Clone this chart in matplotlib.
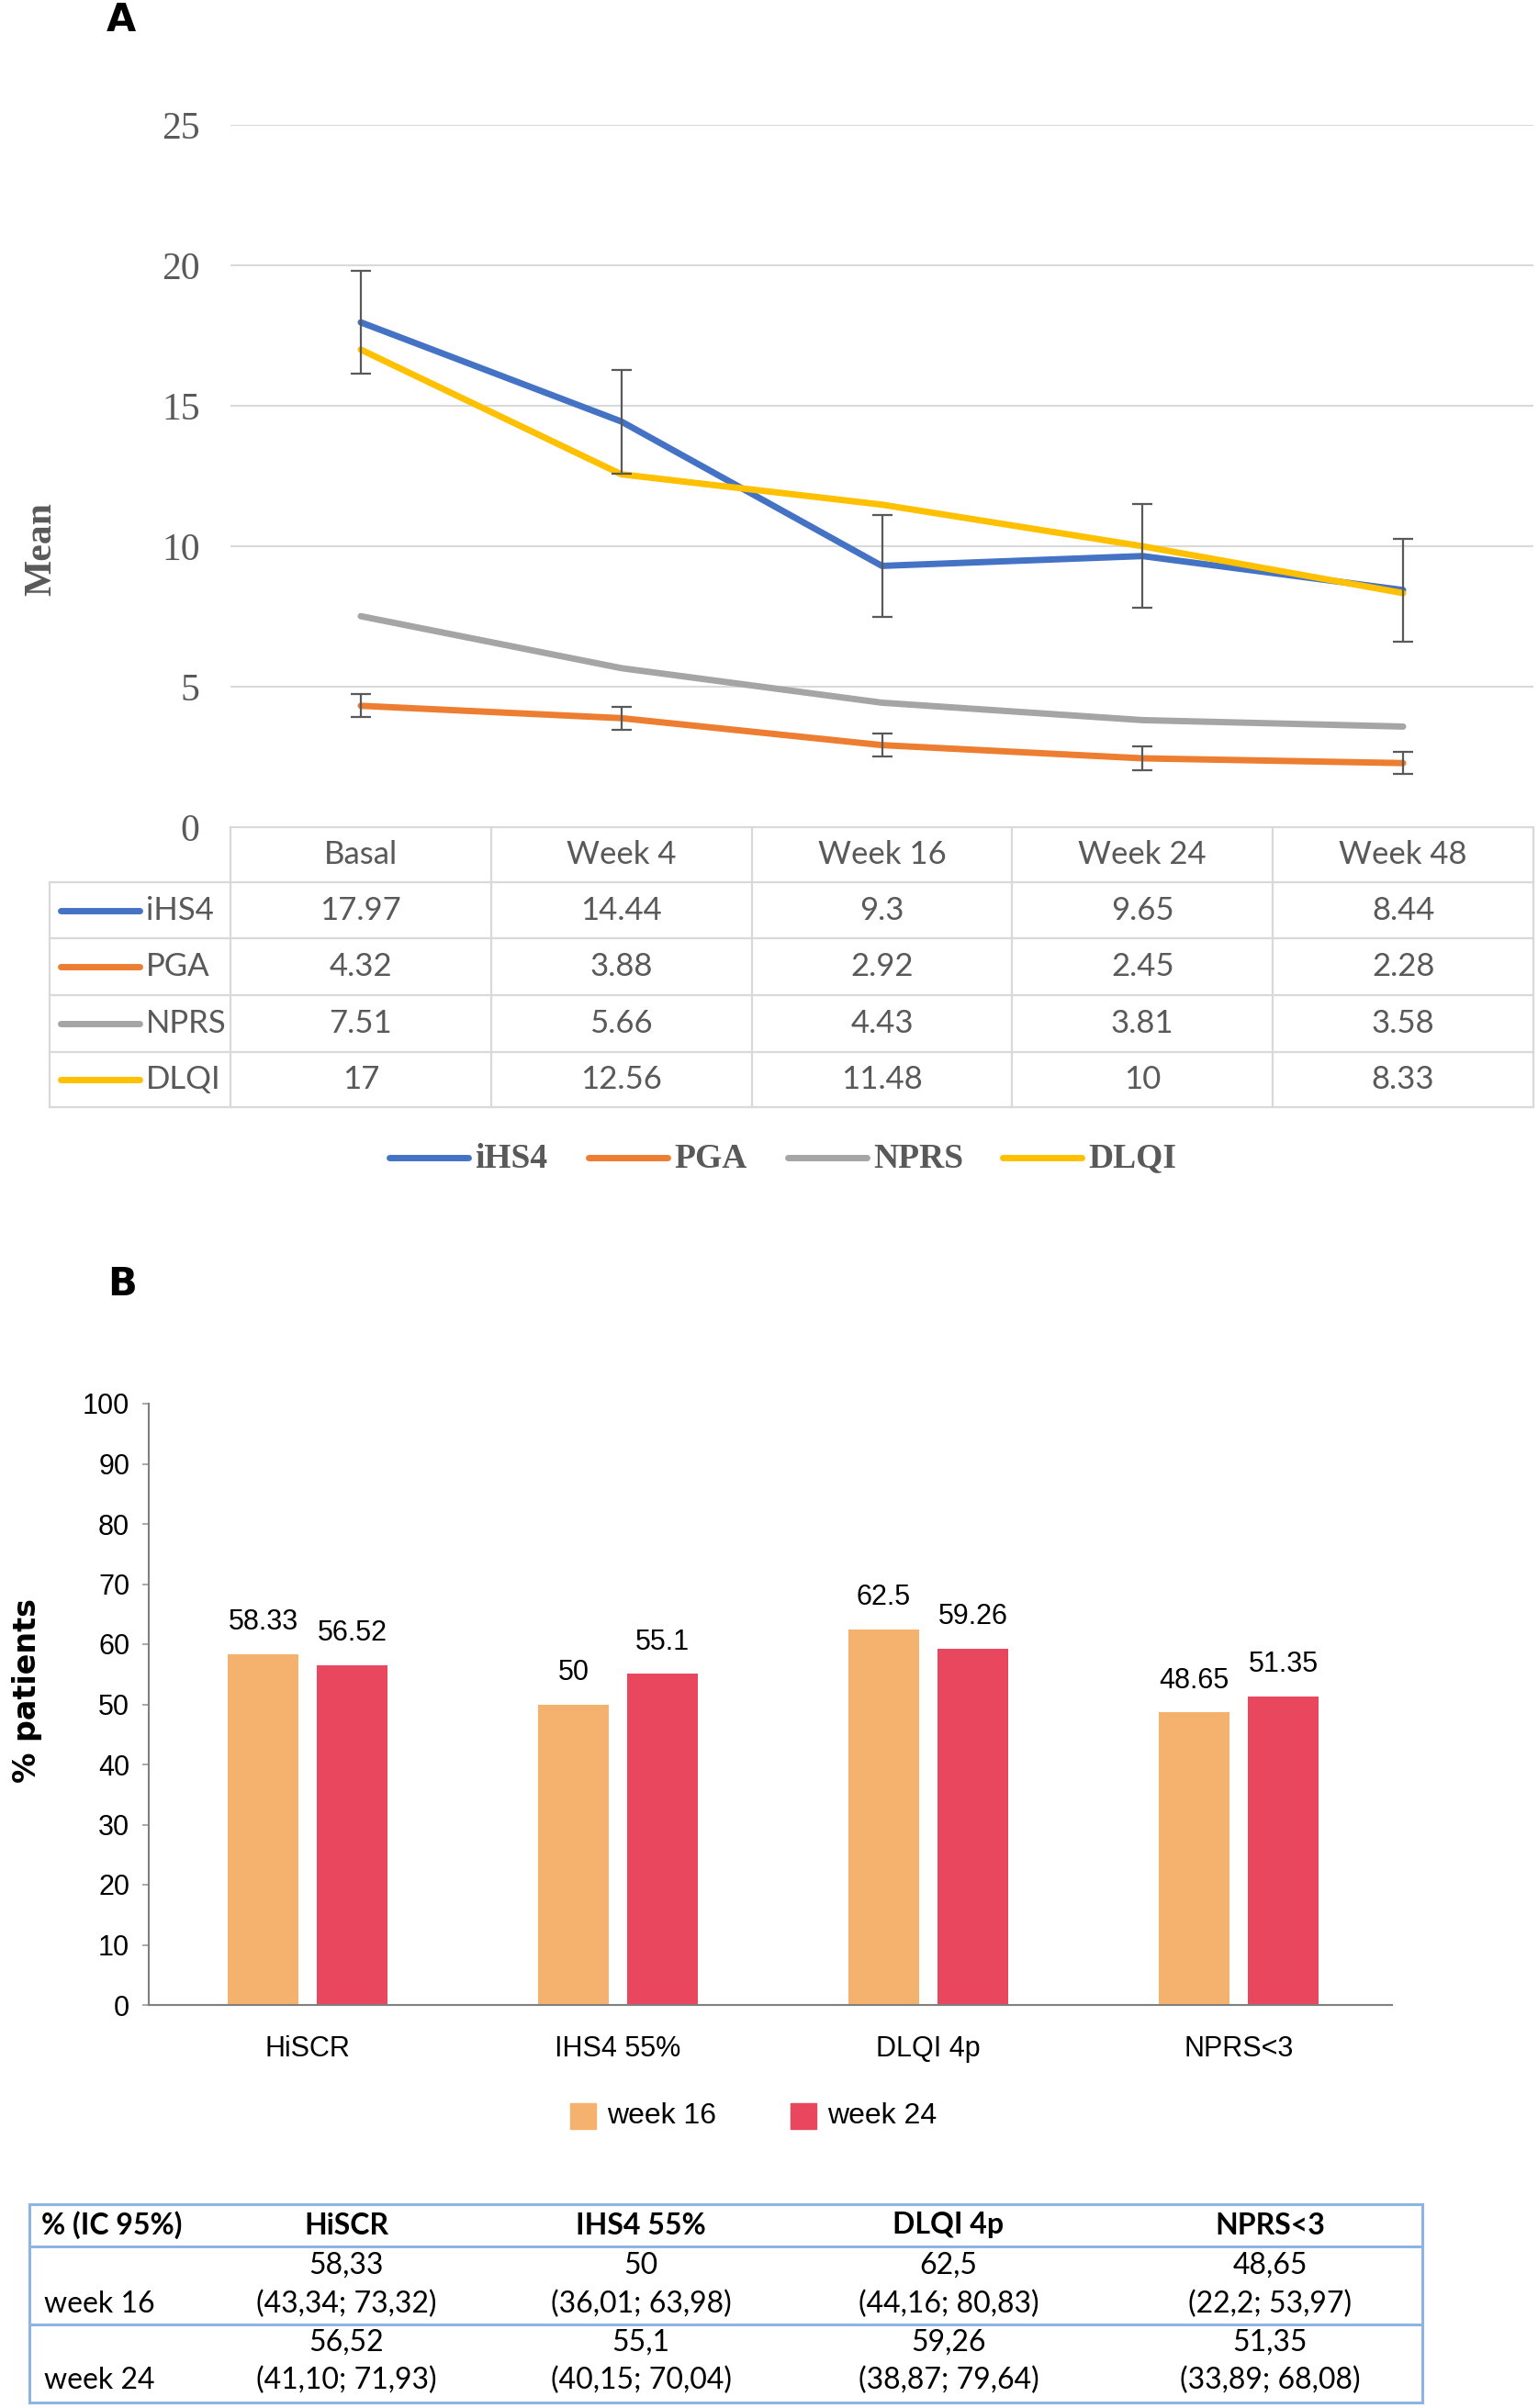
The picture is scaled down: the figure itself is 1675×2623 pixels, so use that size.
import matplotlib
matplotlib.use("Agg")
import matplotlib.pyplot as plt
import numpy as np

W, H = 1675, 2623

# ---- panel A data
timepoints = ['Basal', 'Week 4', 'Week 16', 'Week 24', 'Week 48']
series_names = ['iHS4', 'PGA', 'NPRS', 'DLQI']
ihs4 = [17.97, 14.44, 9.3, 9.65, 8.44]
pga = [4.32, 3.88, 2.92, 2.45, 2.28]
nprs = [7.51, 5.66, 4.43, 3.81, 3.58]
dlqi = [17, 12.56, 11.48, 10, 8.33]
ihs4_err = [1.83, 1.85, 1.81, 1.84, 1.83]
pga_err = [0.41, 0.41, 0.40, 0.41, 0.40]
colors_a = ['#4472C4', '#ED7D31', '#A5A5A5', '#FFC000']

# ---- panel B data
outcomes = ['HiSCR', 'IHS4 55%', 'DLQI 4p', 'NPRS<3']
week16 = [58.33, 50, 62.5, 48.65]
week24 = [56.52, 55.1, 59.26, 51.35]
ci_week16 = ['(43,34; 73,32)', '(36,01; 63,98)', '(44,16; 80,83)', '(22,2; 53,97)']
ci_week24 = ['(41,10; 71,93)', '(40,15; 70,04)', '(38,87; 79,64)', '(33,89; 68,08)']
colors_b = ['#F5B26E', '#E8475E']

GRAY_TXT = '#595959'
GRID = '#D9D9D9'
SERIF = 'Liberation Serif'
CAL = 'Lato'
ARIAL = 'Liberation Sans'


def rect(x0, y0, x1, y1):
    return [x0 / W, 1 - y1 / H, (x1 - x0) / W, (y1 - y0) / H]


fig = plt.figure(figsize=(W / 100, H / 100), dpi=100)

# overlay in pixel coords for tables, legends and labels
ov = fig.add_axes([0, 0, 1, 1])
ov.set_xlim(0, W)
ov.set_ylim(H, 0)
ov.axis('off')

# ================= Panel A =================
ax = fig.add_axes(rect(251, 136, 1670, 901))
x = np.arange(len(timepoints))
all_series = [ihs4, pga, nprs, dlqi]
for vals, c in zip(all_series, colors_a):
    ax.plot(x, vals, color=c, lw=5, solid_capstyle='round', solid_joinstyle='round', zorder=3)
ax.errorbar(x, ihs4, yerr=ihs4_err, fmt='none', ecolor=GRAY_TXT, elinewidth=1.6,
            capsize=8, capthick=1.6, zorder=4)
ax.errorbar(x, pga, yerr=pga_err, fmt='none', ecolor=GRAY_TXT, elinewidth=1.6,
            capsize=8, capthick=1.6, zorder=4)
ax.set_xlim(-0.5, len(timepoints) - 0.5)
ax.set_ylim(0, 25)
ax.set_yticks(np.arange(0, 26, 5))
ax.set_xticks([])
ax.grid(axis='y', color=GRID, lw=1.5, zorder=0)
for s in ax.spines.values():
    s.set_visible(False)
ax.tick_params(axis='y', length=0, pad=24, labelsize=30, labelcolor=GRAY_TXT)
for lab in ax.get_yticklabels():
    lab.set_fontfamily(SERIF)

ov.text(45, 598, 'Mean', rotation=90, ha='center', va='center', fontsize=30,
        fontweight='bold', color=GRAY_TXT, family=SERIF)
ov.text(116, 22, 'A', ha='left', va='center', fontsize=30, fontweight='bold', family='DejaVu Sans')

# data table under panel A
col_w = (1670 - 251) / len(timepoints)
row_edges = [901, 961, 1022, 1084, 1146, 1206]
tl = dict(color=GRID, lw=1.6)
ov.plot([251, 1670], [901, 901], **tl)
for y in row_edges[1:]:
    ov.plot([54, 1670], [y, y], **tl)
ov.plot([54, 54], [961, 1206], **tl)
for i in range(len(timepoints) + 1):
    xx = 251 + i * col_w
    ov.plot([xx, xx], [901, 1206], **tl)
for i, tp in enumerate(timepoints):
    ov.text(251 + (i + 0.5) * col_w, 931, tp, ha='center', va='center', fontsize=25,
            color=GRAY_TXT, family=CAL)
for r, (name, vals, c) in enumerate(zip(series_names, all_series, colors_a)):
    yc = (row_edges[r + 1] + row_edges[r + 2]) / 2
    ov.plot([66, 152], [yc, yc], color=c, lw=5, solid_capstyle='round')
    ov.text(159, yc, name, ha='left', va='center', fontsize=25, color=GRAY_TXT, family=CAL)
    for i, v in enumerate(vals):
        ov.text(251 + (i + 0.5) * col_w, yc, f"{v:g}", ha='center', va='center',
                fontsize=25, color=GRAY_TXT, family=CAL)

# legend A
leg_x = [424, 641, 858, 1092]
for lx, name, c in zip(leg_x, series_names, colors_a):
    ov.plot([lx, lx + 86], [1261, 1261], color=c, lw=5, solid_capstyle='round')
    ov.text(lx + 93, 1262, name, ha='left', va='center', fontsize=27, fontweight='bold',
            color=GRAY_TXT, family=SERIF)

# ================= Panel B =================
bx = fig.add_axes(rect(162, 1529, 1516, 2184))
xb = np.arange(len(outcomes))
bw = 0.228
off = 0.1436
r1 = bx.bar(xb - off, week16, bw, color=colors_b[0], zorder=2)
r2 = bx.bar(xb + off, week24, bw, color=colors_b[1], zorder=2)
for rr, vals in ((r1, week16), (r2, week24)):
    bx.bar_label(rr, labels=[f"{v:g}" for v in vals], padding=14, fontsize=22,
                 family=ARIAL)
bx.set_xlim(-0.512, 3.494)
bx.set_ylim(0, 100)
bx.set_yticks(np.arange(0, 101, 10))
bx.set_xticks(xb)
bx.set_xticklabels(outcomes, fontsize=22, family=ARIAL)
for sp in ('top', 'right'):
    bx.spines[sp].set_visible(False)
for sp in ('left', 'bottom'):
    bx.spines[sp].set_color('#7F7F7F')
    bx.spines[sp].set_linewidth(1.5)
bx.tick_params(axis='y', length=5, width=1.2, color='#9A9A9A', pad=10, labelsize=22)
bx.tick_params(axis='x', length=0, pad=24)
for lab in bx.get_yticklabels():
    lab.set_fontfamily(ARIAL)

ov.text(30, 1842, '% patients', rotation=90, ha='center', va='center', fontsize=24,
        fontweight='bold', family='DejaVu Sans')
ov.text(117, 1399, 'B', ha='left', va='center', fontsize=30, fontweight='bold', family='DejaVu Sans')

# legend B
for sx, name, c in zip([621, 861], ['week 16', 'week 24'], colors_b):
    ov.add_patch(plt.Rectangle((sx, 2291), 28, 28, color=c))
    ov.text(sx + 40, 2305, name, ha='left', va='center', fontsize=23, family=ARIAL)

# table B
blue = '#8DB4E2'
for y in [2401, 2447, 2532, 2617]:
    ov.plot([32, 1549], [y, y], color=blue, lw=2.2)
ov.plot([32, 32], [2401, 2617], color=blue, lw=2.2)
ov.plot([1549, 1549], [2401, 2617], color=blue, lw=2.2)
col_c = [377, 698, 1033, 1383]
ov.text(45, 2424, '% (IC 95%)', ha='left', va='center', fontsize=23, fontweight='bold', family=CAL)
for cx, name in zip(col_c, outcomes):
    ov.text(cx, 2424, name, ha='center', va='center', fontsize=23, fontweight='bold', family=CAL)
for (yv, yci, wk, vals, cis) in ((2468, 2510, 'week 16', week16, ci_week16),
                                 (2552, 2593, 'week 24', week24, ci_week24)):
    ov.text(48, yci, wk, ha='left', va='center', fontsize=23, family=CAL)
    for cx, v, ci in zip(col_c, vals, cis):
        ov.text(cx, yv, f"{v:g}".replace('.', ','), ha='center', va='center', fontsize=23, family=CAL)
        ov.text(cx, yci, ci, ha='center', va='center', fontsize=23, family=CAL)

fig.savefig('out.png', dpi=100)
